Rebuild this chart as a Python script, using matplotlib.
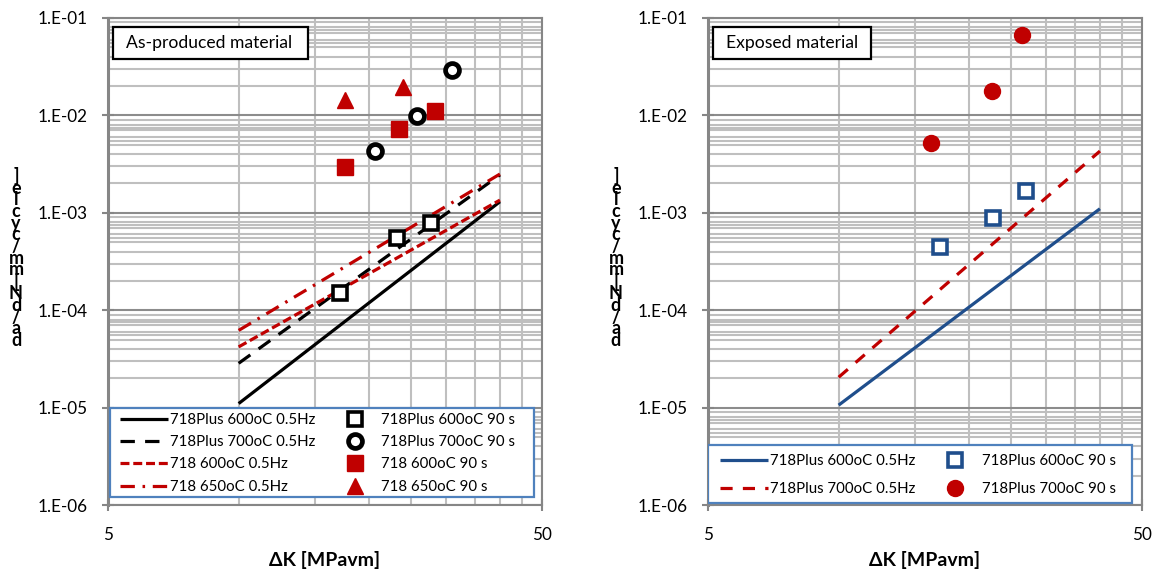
import matplotlib
matplotlib.use("Agg")
import matplotlib.pyplot as plt
from matplotlib.ticker import FixedLocator, LogLocator, NullFormatter, FixedFormatter
from matplotlib.patches import Rectangle

plt.rcParams['font.family'] = ['Lato', 'DejaVu Sans']

# ---------------- data ----------------
# As-produced material (left panel)
line_dk = [10, 40]
ap_plus600_hz = [1.1e-5, 1.3e-3]
ap_plus700_hz = [2.85e-5, 2.45e-3]
ap_718_600_hz = [4.2e-5, 1.35e-3]
ap_718_650_hz = [6.2e-5, 2.5e-3]

ap_plus600_90_dk = [17.1, 23.2, 27.7]
ap_plus600_90_v = [1.5e-4, 5.5e-4, 7.85e-4]
ap_plus700_90_dk = [20.6, 25.8, 31.0]
ap_plus700_90_v = [4.3e-3, 9.9e-3, 2.92e-2]
ap_718_600_90_dk = [17.6, 23.4, 28.3]
ap_718_600_90_v = [2.95e-3, 7.2e-3, 1.11e-2]
ap_718_650_90_dk = [17.6, 23.9]
ap_718_650_90_v = [1.45e-2, 1.96e-2]

# Exposed material (right panel)
ex_plus600_hz = [1.06e-5, 1.1e-3]
ex_plus700_hz = [2.05e-5, 4.3e-3]
ex_plus600_90_dk = [17.1, 22.7, 27.0]
ex_plus600_90_v = [4.45e-4, 8.85e-4, 1.68e-3]
ex_plus700_90_dk = [16.3, 22.6, 26.4]
ex_plus700_90_v = [5.2e-3, 1.78e-2, 6.7e-2]

ytick_vals = [1e-6, 1e-5, 1e-4, 1e-3, 1e-2, 1e-1]
ytick_labels = ["1.E-06", "1.E-05", "1.E-04", "1.E-03", "1.E-02", "1.E-01"]
xtick_vals = [5, 50]
xtick_labels = ["5", "50"]
xminor_vals = [10, 15, 20, 25, 30, 35, 40, 45]
yminor_subs = (2, 3, 4, 5, 5.5, 6, 7, 7.5, 8, 9)

labels_left = ["718Plus 600oC 0.5Hz", "718Plus 700oC 0.5Hz", "718 600oC 0.5Hz", "718 650oC 0.5Hz",
               "718Plus 600oC 90 s", "718Plus 700oC 90 s", "718 600oC 90 s", "718 650oC 90 s"]
labels_right = ["718Plus 600oC 0.5Hz", "718Plus 700oC 0.5Hz", "718Plus 600oC 90 s", "718Plus 700oC 90 s"]
ylabel_text = "da/dN[mm/cycle]"
title_left = "As-produced material"
title_right = "Exposed material"

RED = '#C00000'
BLUE = '#1F4E8C'
GRID = '#BFBFBF'
GRIDMAJ = '#8C8C8C'
SPINE = '#868686'
LEGEDGE = '#4F81BD'

W, H = 1156, 571
fig = plt.figure(figsize=(W / 100, H / 100), dpi=100)


def make_ax(x0):
    ax = fig.add_axes([x0 / W, (H - 505) / H, 434 / W, 487 / H])
    ax.set_xscale('log')
    ax.set_yscale('log')
    ax.set_xlim(5, 50)
    ax.set_ylim(1e-6, 1e-1)
    ax.xaxis.set_major_locator(FixedLocator(xtick_vals))
    ax.xaxis.set_major_formatter(FixedFormatter(xtick_labels))
    ax.xaxis.set_minor_locator(FixedLocator(xminor_vals))
    ax.xaxis.set_minor_formatter(NullFormatter())
    ax.yaxis.set_major_locator(FixedLocator(ytick_vals))
    ax.yaxis.set_major_formatter(FixedFormatter(ytick_labels))
    ax.yaxis.set_minor_locator(LogLocator(base=10, subs=yminor_subs, numticks=50))
    ax.yaxis.set_minor_formatter(NullFormatter())
    ax.tick_params(which='minor', length=0)
    ax.tick_params(which='major', direction='inout', length=9, width=1.5, color=SPINE,
                   labelsize=12.3, labelcolor='#000000')
    ax.tick_params(axis='x', which='major', pad=11)
    ax.tick_params(axis='y', which='major', pad=10)
    ax.grid(True, which='minor', axis='both', color=GRID, lw=1.5)
    ax.grid(True, which='major', axis='y', color=GRIDMAJ, lw=1.5)
    ax.grid(True, which='major', axis='x', color=GRID, lw=1.5)
    ax.set_axisbelow(True)
    for s in ax.spines.values():
        s.set_color(SPINE)
        s.set_linewidth(1.5)
    ax.spines['left'].set_linewidth(2.2)
    ax.set_xlabel("ΔK [MPavm]", fontsize=14, fontweight='bold', labelpad=6)
    return ax


def ylabel_stack(xc):
    txt = "\n".join(reversed(list(ylabel_text)))
    fig.text(xc / W, 1 - 258 / H, txt, ha='center', va='center', fontsize=13,
             fontweight='bold', linespacing=0.62, multialignment='center')


def px_rect(ax, x0, y0, x1, y1, ec, z):
    axx = ax.get_position().x0 * W
    r = Rectangle(((x0 - axx) / 434, (505 - y1) / 487), (x1 - x0) / 434, (y1 - y0) / 487,
                  transform=ax.transAxes, fc='white', ec=ec, lw=1.6, zorder=z)
    ax.add_patch(r)


def title_box(ax, x0, x1, text):
    axx = ax.get_position().x0 * W
    px_rect(ax, x0, 27, x1, 59, 'black', 5)
    ax.text((x0 + 13 - axx) / 434, (505 - 43) / 487, text, transform=ax.transAxes,
            fontsize=12.6, ha='left', va='center', zorder=6)


lw = 2.3
# ---------------- left panel ----------------
ax1 = make_ax(108)
h1, = ax1.plot(line_dk, ap_plus600_hz, color='black', lw=lw, solid_capstyle='butt')
h2, = ax1.plot(line_dk, ap_plus700_hz, color='black', lw=lw, dashes=(4.5, 3.2))
h3, = ax1.plot(line_dk, ap_718_600_hz, color=RED, lw=lw, dashes=(2.8, 1.2))
h4, = ax1.plot(line_dk, ap_718_650_hz, color=RED, lw=lw, dashes=(4.5, 2.4, 0.8, 2.4))
m1, = ax1.plot(ap_plus600_90_dk, ap_plus600_90_v, ls='none', marker='s', ms=9.5,
               mfc='white', mec='black', mew=2.6)
m2, = ax1.plot(ap_plus700_90_dk, ap_plus700_90_v, ls='none', marker='o', ms=10,
               mfc='white', mec='black', mew=3.4)
m3, = ax1.plot(ap_718_600_90_dk, ap_718_600_90_v, ls='none', marker='s', ms=11.5,
               mfc=RED, mec=RED, mew=1)
m4, = ax1.plot(ap_718_650_90_dk, ap_718_650_90_v, ls='none', marker='^', ms=11,
               mfc=RED, mec=RED, mew=1)
px_rect(ax1, 110, 408, 534, 497, LEGEDGE, 4)
leg1 = ax1.legend([h1, h2, h3, h4, m1, m2, m3, m4], labels_left, ncol=2,
                  loc='upper left', bbox_to_anchor=((120 - 108) / 434, (505 - 413) / 487),
                  borderaxespad=0, borderpad=0, fontsize=10.8, frameon=False,
                  handlelength=3.2, handletextpad=0.15,
                  labelspacing=0.55, columnspacing=1.0)
leg1.set_zorder(6)
title_box(ax1, 113, 308, title_left)
ylabel_stack(16)

# ---------------- right panel ----------------
ax2 = make_ax(708)
g1, = ax2.plot(line_dk, ex_plus600_hz, color=BLUE, lw=lw, solid_capstyle='butt')
g2, = ax2.plot(line_dk, ex_plus700_hz, color=RED, lw=lw, dashes=(3.8, 3.2))
n1, = ax2.plot(ex_plus600_90_dk, ex_plus600_90_v, ls='none', marker='s', ms=9.5,
               mfc='white', mec=BLUE, mew=2.6)
n2, = ax2.plot(ex_plus700_90_dk, ex_plus700_90_v, ls='none', marker='o', ms=11.5,
               mfc=RED, mec=RED, mew=1)
px_rect(ax2, 708, 445, 1132, 503, LEGEDGE, 4)
leg2 = ax2.legend([g1, g2, n1, n2], labels_right, ncol=2,
                  loc='upper left', bbox_to_anchor=((720 - 708) / 434, (505 - 454) / 487),
                  borderaxespad=0, borderpad=0, fontsize=10.8, frameon=False,
                  handlelength=3.2, handletextpad=0.15,
                  labelspacing=0.95, columnspacing=1.05)
leg2.set_zorder(6)
title_box(ax2, 713, 871, title_right)
ylabel_stack(616)

fig.savefig("out.png", dpi=100)
